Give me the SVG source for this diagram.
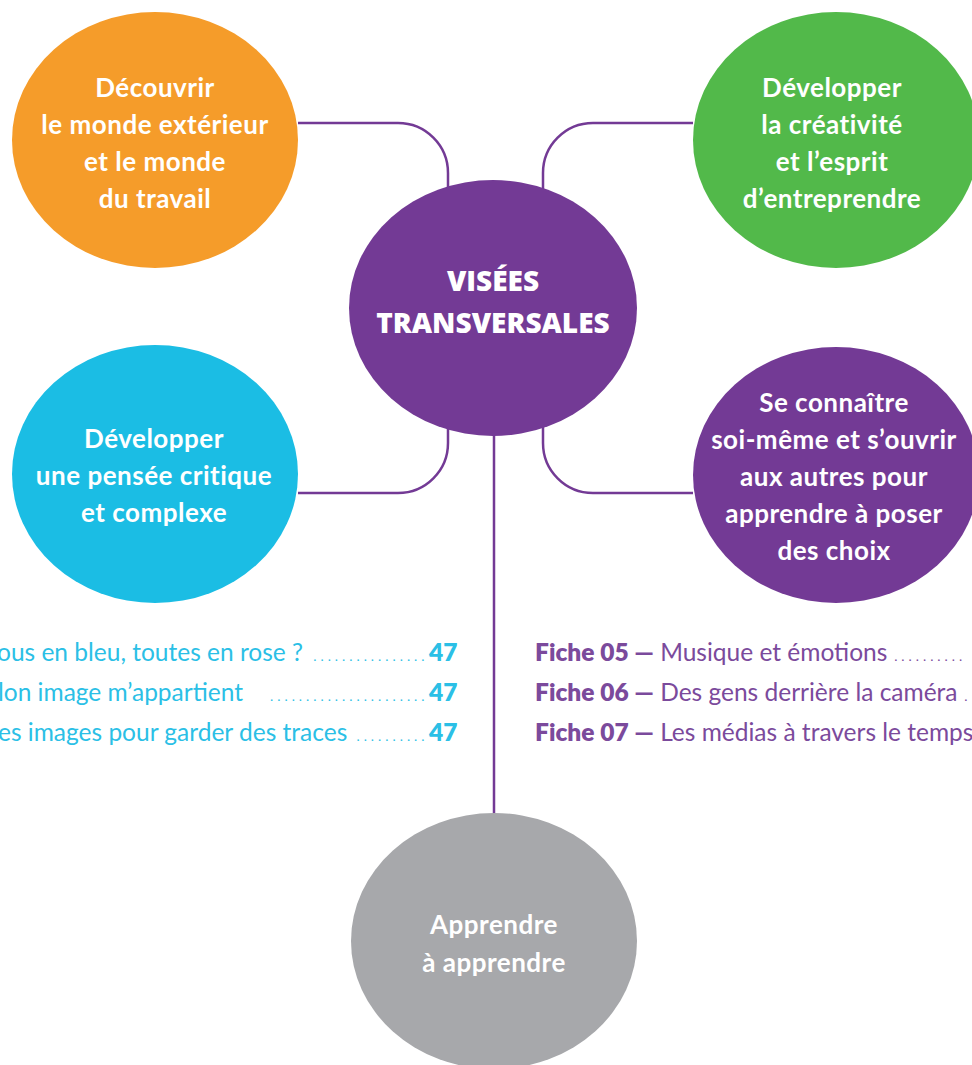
<svg xmlns="http://www.w3.org/2000/svg" width="972" height="1065" viewBox="0 0 972 1065">
<style>
.lbl{font-family:Lato,"Open Sans",sans-serif;font-weight:700;font-size:26px;letter-spacing:0.5px;fill:#fff;text-anchor:middle}
.ttl{font-family:"Open Sans",Lato,sans-serif;font-weight:800;font-size:28px;fill:#fff;text-anchor:middle}
.conn{fill:none;stroke:#733A95;stroke-width:2.5}
.lc{font-family:Lato,"Open Sans",sans-serif;font-size:24.5px;fill:#2BBFE6}
.lp{font-family:Lato,"Open Sans",sans-serif;font-size:24.5px;fill:#7B4A9C}
.b{font-weight:800}
.dots{letter-spacing:3px;font-size:18px;font-weight:300}
</style>
<rect width="972" height="1065" fill="#fff"/>
<g id="connectors">
<path class="conn" d="M298 123 H398 A50 50 0 0 1 448 173 V190"/>
<path class="conn" d="M693 123 H593 A50 50 0 0 0 543 173 V190"/>
<path class="conn" d="M448 425 V443 A50 50 0 0 1 398 493 H298"/>
<path class="conn" d="M543 425 V443 A50 50 0 0 0 593 493 H693"/>
<path class="conn" d="M494 430 V815"/>
</g>
<g id="node-center">
<ellipse cx="493" cy="308" rx="144" ry="128" fill="#733A95"/>
<text class="ttl" x="493" y="291">VISÉES</text>
<text class="ttl" x="493" y="333">TRANSVERSALES</text>
</g>
<g id="node-orange">
<ellipse cx="155" cy="140" rx="143" ry="128" fill="#F59C2A"/>
<text class="lbl" x="155" y="97">Découvrir</text>
<text class="lbl" x="155" y="134">le monde extérieur</text>
<text class="lbl" x="155" y="171">et le monde</text>
<text class="lbl" x="155" y="208">du travail</text>
</g>
<g id="node-green">
<ellipse cx="836" cy="140" rx="143" ry="128" fill="#52B94A"/>
<text class="lbl" x="832" y="97">Développer</text>
<text class="lbl" x="832" y="134">la créativité</text>
<text class="lbl" x="832" y="171">et l’esprit</text>
<text class="lbl" x="832" y="208">d’entreprendre</text>
</g>
<g id="node-cyan">
<ellipse cx="155" cy="474" rx="143" ry="129" fill="#1BBDE4"/>
<text class="lbl" x="154" y="448">Développer</text>
<text class="lbl" x="154" y="485">une pensée critique</text>
<text class="lbl" x="154" y="522">et complexe</text>
</g>
<g id="node-purple">
<ellipse cx="836" cy="475" rx="143" ry="128" fill="#733A95"/>
<text class="lbl" x="834" y="412">Se connaître</text>
<text class="lbl" x="834" y="449">soi-même et s’ouvrir</text>
<text class="lbl" x="834" y="486">aux autres pour</text>
<text class="lbl" x="834" y="523">apprendre à poser</text>
<text class="lbl" x="834" y="560">des choix</text>
</g>
<g id="node-gray">
<ellipse cx="494" cy="941" rx="143" ry="128" fill="#A7A8AB"/>
<text class="lbl" x="494" y="934">Apprendre</text>
<text class="lbl" x="494" y="972">à apprendre</text>
</g>
<g id="list-left">
<text class="lc" x="-3" y="661">ous en bleu, toutes en rose ?</text>
<text class="lc dots" x="428" y="661" text-anchor="end">................</text>
<text class="lc b" x="429" y="661">47</text>
<text class="lc" x="-2" y="701">lon image m’appartient</text>
<text class="lc dots" x="428" y="701" text-anchor="end">......................</text>
<text class="lc b" x="429" y="701">47</text>
<text class="lc" x="-2" y="741">es images pour garder des traces</text>
<text class="lc dots" x="428" y="741" text-anchor="end">..........</text>
<text class="lc b" x="429" y="741">47</text>
</g>
<g id="list-right">
<text class="lp" x="535" y="661"><tspan class="b">Fiche 05 —</tspan> Musique et  émotions <tspan class="dots">..........</tspan></text>
<text class="lp" x="535" y="701"><tspan class="b">Fiche 06 —</tspan> Des gens derrière la caméra <tspan class="dots">.</tspan></text>
<text class="lp" x="535" y="741"><tspan class="b">Fiche 07 —</tspan> Les médias à travers le temps</text>
</g>
</svg>
